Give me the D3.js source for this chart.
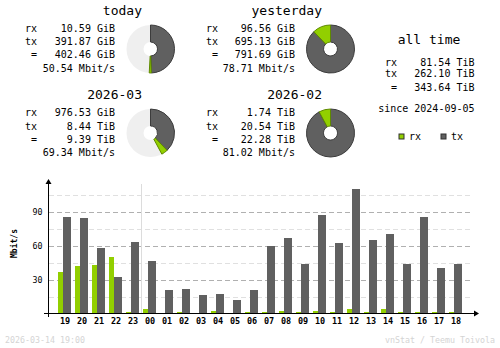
<!DOCTYPE html>
<html>
<head>
<meta charset="utf-8">
<script src="https://cdn.jsdelivr.net/npm/d3@7"></script>
<style>
  html, body { margin: 0; padding: 0; background: #fff; }
  svg { display: block; }
  text { font-family: "DejaVu Sans Mono", "Liberation Mono", monospace; fill: #000; }
</style>
</head>
<body>
<svg id="chart" width="500" height="348"></svg>
<script>
// ---- summary data ----
const periodTitles = ["today", "yesterday", "2026-03", "2026-02"];
const rxLabels = ["10.59 GiB", "96.56 GiB", "976.53 GiB", "1.74 TiB"];
const txLabels = ["391.87 GiB", "695.13 GiB", "8.44 TiB", "20.54 TiB"];
const totalLabels = ["402.46 GiB", "791.69 GiB", "9.39 TiB", "22.28 TiB"];
const rateLabels = ["50.54 Mbit/s", "78.71 Mbit/s", "69.34 Mbit/s", "81.02 Mbit/s"];
// traffic in GiB for the pie sectors
const rxGiB = [10.59, 96.56, 976.53, 1.74 * 1024];
const txGiB = [391.87, 695.13, 8.44 * 1024, 20.54 * 1024];

const allTimeLabels = ["81.54 TiB", "262.10 TiB", "343.64 TiB"];
const sinceLabel = "since 2024-09-05";

// ---- hourly data (Mbit/s) ----
const hours = ["19","20","21","22","23","00","01","02","03","04","05","06",
               "07","08","09","10","11","12","13","14","15","16","17","18"];
const rxMbit = [36.4, 41.8, 42.6, 49.7, 1, 3.8, 0, 1, 0, 2, 0, 1,
                1, 2, 1, 2, 1, 3.8, 1, 3.8, 1, 1, 1, 1];
const txMbit = [85, 84.1, 57.6, 32, 62.9, 46.1, 20.6, 21.5, 16.2, 17.1, 11.8, 20.6,
                59.3, 66.4, 43.5, 86.7, 62, 109.7, 64.7, 70, 43.5, 85, 40, 43.5];
const yTicks = [30, 60, 90];
const yMinorTicks = [15, 45, 75, 105];

const footerLeft = "2026-03-14 19:00";
const footerRight = "vnStat / Teemu Toivola";

// ---- colours ----
const cRx = "#92cf00", cRxEdge = "#5f8a00";
const cTx = "#606060", cTxEdge = "#3c3c3c";
const cPieBg = "#efefef";
const cLine = "#b0b0b0", cLineLight = "#e0e0e0";
const cFooter = "#d4d4d4";

const svg = d3.select("#chart");
svg.append("rect").attr("width", 500).attr("height", 348).attr("fill", "#fff");

// ---- summary blocks ----
const blocks = [
  { labelX: 25,  valueX: 115, titleX: 142, dy: 0,    pieX: 150.5, pieY: 49,  pair: [0, 1] },
  { labelX: 206, valueX: 295, titleX: 322, dy: 0,    pieX: 330.5, pieY: 49,  pair: [0, 1] },
  { labelX: 25,  valueX: 115, titleX: 142, dy: 84.5, pieX: 150.5, pieY: 133, pair: [2, 3] },
  { labelX: 206, valueX: 295, titleX: 322, dy: 84.5, pieX: 330.5, pieY: 133, pair: [2, 3] }
];
const rowBase = [31.8, 45.1, 58.4, 71.7];
const pieR = 24, holeR = 7;

const arc = d3.arc().innerRadius(holeR).outerRadius(pieR);

blocks.forEach((b, i) => {
  const g = svg.append("g");
  g.append("text").attr("x", b.titleX).attr("y", 14.5 + b.dy)
    .attr("text-anchor", "end").attr("font-size", 13).text(periodTitles[i]);

  const rows = [["rx", rxLabels[i]], ["tx", txLabels[i]], [" =", totalLabels[i]], ["", rateLabels[i]]];
  rows.forEach((r, k) => {
    g.append("text").attr("x", b.labelX).attr("y", rowBase[k] + b.dy)
      .attr("font-size", 10).attr("xml:space", "preserve").style("white-space", "pre").text(r[0]);
    g.append("text").attr("x", b.valueX).attr("y", rowBase[k] + b.dy)
      .attr("text-anchor", "end").attr("font-size", 10).text(r[1]);
  });

  // pie: sectors scaled against the larger of the two compared periods
  const maxTotal = d3.max(b.pair, j => rxGiB[j] + txGiB[j]);
  const angle = d3.scaleLinear().domain([0, maxTotal]).range([0, 2 * Math.PI]);
  const pg = g.append("g").attr("transform", `translate(${b.pieX},${b.pieY})`);
  pg.append("path").attr("d", arc({ startAngle: 0, endAngle: 2 * Math.PI })).attr("fill", cPieBg);
  const txEnd = angle(txGiB[i]);
  const rxEnd = angle(txGiB[i] + rxGiB[i]);
  pg.append("path").attr("d", arc({ startAngle: 0, endAngle: txEnd }))
    .attr("fill", cTx).attr("stroke", cTxEdge).attr("stroke-width", 1);
  pg.append("path").attr("d", arc({ startAngle: txEnd, endAngle: rxEnd }))
    .attr("fill", cRx).attr("stroke", cRxEdge).attr("stroke-width", 1);
});

// ---- all time block ----
const at = svg.append("g");
at.append("text").attr("x", 429).attr("y", 44.3).attr("text-anchor", "middle")
  .attr("font-size", 13).text("all time");
const atRows = [["rx", allTimeLabels[0], 66], ["tx", allTimeLabels[1], 77.2], [" =", allTimeLabels[2], 91.4]];
atRows.forEach(r => {
  at.append("text").attr("x", 385).attr("y", r[2]).attr("font-size", 10)
    .style("white-space", "pre").text(r[0]);
  at.append("text").attr("x", 474.5).attr("y", r[2]).attr("text-anchor", "end")
    .attr("font-size", 10).text(r[1]);
});
at.append("text").attr("x", 474.5).attr("y", 111.6).attr("text-anchor", "end")
  .attr("font-size", 10).text(sinceLabel);

// legend
const legend = [["rx", cRx, cRxEdge, 398.5], ["tx", cTx, cTxEdge, 440.5]];
legend.forEach(l => {
  at.append("rect").attr("x", l[3] + 0.5).attr("y", 134).attr("width", 5).attr("height", 5)
    .attr("fill", l[1]).attr("stroke", "#303030").attr("stroke-width", 1);
  at.append("text").attr("x", l[3] + 10.5).attr("y", 139.8).attr("font-size", 10).text(l[0]);
});

// ---- hourly bar chart ----
const x = d3.scaleBand().domain(hours).range([58, 466]).paddingInner(0).paddingOuter(0);
const y = d3.scaleLinear().domain([0, 120]).range([313.5, 177.5]);
const axisX = 48.5;
const chart = svg.append("g").attr("shape-rendering", "crispEdges");

// grid
chart.selectAll("line.minor").data(yMinorTicks).join("line")
  .attr("x1", axisX).attr("x2", 473).attr("y1", d => Math.round(y(d)) + 0.5).attr("y2", d => Math.round(y(d)) + 0.5)
  .attr("stroke", cLineLight).attr("stroke-dasharray", "5,3");
chart.selectAll("line.major").data(yTicks).join("line")
  .attr("x1", axisX).attr("x2", 473).attr("y1", d => Math.round(y(d)) + 0.5).attr("y2", d => Math.round(y(d)) + 0.5)
  .attr("stroke", cLine).attr("stroke-dasharray", "5,3");

// day separator before hour 00
chart.append("line")
  .attr("x1", x("00") - 1.5).attr("x2", x("00") - 1.5).attr("y1", 184).attr("y2", y(0))
  .attr("stroke", "#dcdcdc");

// bars
chart.selectAll("rect.rx").data(hours).join("rect")
  .attr("x", d => x(d)).attr("width", 5)
  .attr("y", (d, i) => y(rxMbit[i])).attr("height", (d, i) => y(0) - y(rxMbit[i]))
  .attr("fill", cRx);
chart.selectAll("rect.tx").data(hours).join("rect")
  .attr("x", d => x(d) + 5).attr("width", 8)
  .attr("y", (d, i) => y(txMbit[i])).attr("height", (d, i) => y(0) - y(txMbit[i]))
  .attr("fill", cTx);

// axes
chart.append("line").attr("x1", axisX).attr("x2", axisX).attr("y1", 182).attr("y2", 317)
  .attr("stroke", "#000");
chart.append("line").attr("x1", 44).attr("x2", 476).attr("y1", 313.5).attr("y2", 313.5)
  .attr("stroke", "#000");
svg.append("path").attr("d", `M${axisX},179 L${axisX - 3},184 L${axisX + 3},184 Z`).attr("fill", "#000");
svg.append("path").attr("d", `M479,313.5 L474,310.5 L474,316.5 Z`).attr("fill", "#000");

// tick labels
svg.selectAll("text.ylab").data(yTicks).join("text")
  .attr("x", 42.5).attr("y", d => y(d) + 3).attr("text-anchor", "end")
  .attr("font-size", 8.3).text(d => d);
svg.selectAll("text.xlab").data(hours).join("text")
  .attr("x", d => x(d) + 7).attr("y", 324.2).attr("text-anchor", "middle")
  .attr("font-size", 8.5).attr("font-weight", "bold").text(d => d);

svg.append("text").attr("transform", "translate(17,243.5) rotate(-90)")
  .attr("text-anchor", "middle").attr("font-size", 8).attr("font-weight", "bold").text("Mbit/s");

// footer
svg.append("text").attr("x", 5).attr("y", 343).attr("font-size", 8.3)
  .style("fill", cFooter).text(footerLeft);
svg.append("text").attr("x", 495).attr("y", 343).attr("text-anchor", "end").attr("font-size", 8.3)
  .style("fill", cFooter).text(footerRight);
</script>
</body>
</html>
